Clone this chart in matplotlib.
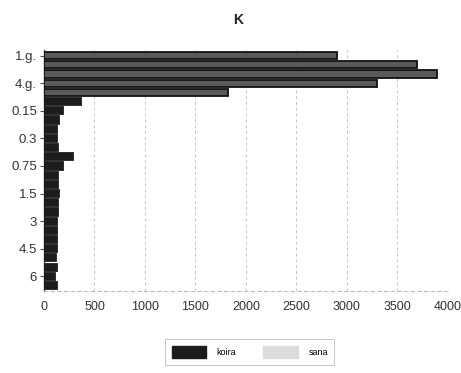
import matplotlib.pyplot as plt
import matplotlib.patches as patches

# categories, top to bottom (only every third one gets a label)
categories = ['1.g.', '2.g.', '3.g.', '4.g.', '5.g.', '0.1', '0.15', '0.2', '0.25', '0.3',
              '0.45', '0.6', '0.75', '1', '1.25', '1.5', '2', '2.5', '3', '3.5',
              '4', '4.5', '5', '5.5', '6', '6.5']
koira = [2900, 3690, 3890, 3300, 1820, 370, 190, 150, 130, 130,
         140, 290, 190, 140, 140, 150, 140, 140, 130, 130,
         130, 130, 120, 130, 110, 130]
x_ticks = [0, 500, 1000, 1500, 2000, 2500, 3000, 3500, 4000]
series_names = ['koira', 'sana']

plt.rcParams['font.family'] = ['Liberation Sans', 'DejaVu Sans']

fig = plt.figure(figsize=(4.61, 3.73), dpi=100)
ax = fig.add_axes([0.0954, 0.2198, 0.8764, 0.646])

y = list(range(len(categories)))
n_long = 5  # the "g." rows are drawn as outlined bars in the original
face = ['#5a5a5a' if i < n_long else '#1c1c1c' for i in y]
edge = ['#111111' if i < n_long else '#1c1c1c' for i in y]
ax.barh(y, koira, height=0.78, color=face, edgecolor=edge, linewidth=1.3, zorder=3)

ax.set_xlim(0, 4000)
ax.set_ylim(len(categories) - 0.4, -0.6)
ax.set_xticks(x_ticks)
ax.set_xticklabels([str(t) for t in x_ticks], fontsize=9, color='#333333')
ax.set_yticks(y[::3])
ax.set_yticklabels(categories[::3], fontsize=9.5, color='#333333')
ax.tick_params(axis='x', length=0, pad=7)
ax.tick_params(axis='y', length=3, width=0.8, pad=2, color='#555555')

# dashed vertical gridlines like the Excel original
for t in x_ticks[1:]:
    ax.axvline(t, color='#c4c4c4', linestyle=(0, (3, 3)), linewidth=0.7, zorder=1)

for s in ['top', 'right']:
    ax.spines[s].set_visible(False)
ax.spines['left'].set_color('#444444')
ax.spines['left'].set_linewidth(1.0)
ax.spines['bottom'].set_color('#bbbbbb')
ax.spines['bottom'].set_linestyle((0, (3, 3)))

fig.text(0.516, 0.946, 'K', ha='center', va='center', fontsize=10, fontweight='bold', color='#222222')

handles = [patches.Patch(facecolor='#1c1c1c', edgecolor='#1c1c1c'),
           patches.Patch(facecolor='#dcdcdc', edgecolor='#dcdcdc')]
leg = fig.legend(handles, series_names, loc='center', bbox_to_anchor=(0.542, 0.056), ncol=2,
                 fontsize=6.5, handlelength=3.8, handleheight=1.8, columnspacing=3.0,
                 handletextpad=1.2, frameon=True, fancybox=False, borderpad=0.7)
leg.get_frame().set_edgecolor('#aaaaaa')
leg.get_frame().set_linewidth(0.6)

fig.savefig('out.png', dpi=100)
